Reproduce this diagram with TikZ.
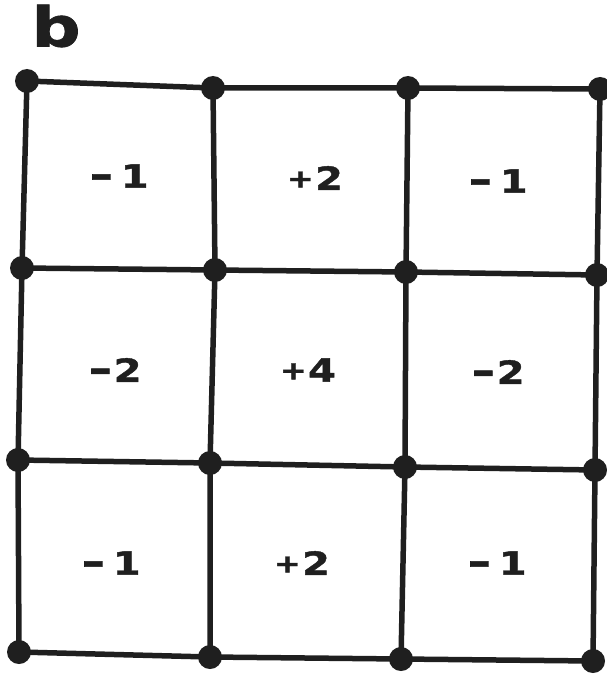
\documentclass[tikz,border=0pt]{standalone}
\usepackage{fontspec}
\setmainfont{DejaVu Sans}
\newfontfamily\heavy[FakeBold=1.2]{DejaVu Sans Bold}
\newcommand{\mydash}{\scalebox{1.45}[1.15]{-}}
\newcommand{\myplus}{\raisebox{2.3pt}{\scalebox{0.8}{+}}}
\begin{document}
\begin{tikzpicture}[x=1pt,y=-1pt,
  gridline/.style={line width=5.5pt,draw=black!88},
  dot/.style={circle,fill=black!88,inner sep=0pt,minimum size=24pt},
  lbl/.style={font=\fontsize{32}{34}\heavy,xscale=1.25,text=black!88,inner sep=0pt},
  title/.style={font=\fontsize{55}{57}\heavy,xscale=1.25,text=black!88,inner sep=0pt}]
\useasboundingbox (0,0) rectangle (606,674);
% grid points
\coordinate (a1) at (27,81);  \coordinate (a2) at (213,88); \coordinate (a3) at (408,88); \coordinate (a4) at (600,89);
\coordinate (b1) at (22,268); \coordinate (b2) at (215,270);\coordinate (b3) at (406,272);\coordinate (b4) at (597,275);
\coordinate (c1) at (18,460); \coordinate (c2) at (210,463);\coordinate (c3) at (405,467);\coordinate (c4) at (595,470);
\coordinate (d1) at (19,652); \coordinate (d2) at (210,657);\coordinate (d3) at (401,659);\coordinate (d4) at (593,661);
\foreach \r in {a,b,c,d}{
  \draw[gridline] (\r1) -- (\r2) -- (\r3) -- (\r4);
}
\foreach \c in {1,2,3,4}{
  \draw[gridline] (a\c) -- (b\c) -- (c\c) -- (d\c);
}
\foreach \r in {a,b,c,d}{
  \foreach \c in {1,2,3,4}{
    \node[dot] (n\r\c) at (\r\c) {};
  }
}
\node[title] (t) at (56,26) {b};
\node[lbl] (l11) at (119,176) {\mydash\hspace{6pt}1};
\node[lbl] (l12) at (315,178) {\myplus\hspace{1pt}2};
\node[lbl] (l13) at (498,181) {\mydash\hspace{6pt}1};
\node[lbl] (l21) at (115,370) {\mydash\hspace{1pt}2};
\node[lbl] (l22) at (308,370) {\myplus\hspace{1pt}4};
\node[lbl] (l23) at (498,372) {\mydash\hspace{1pt}2};
\node[lbl] (l31) at (111,563) {\mydash\hspace{6pt}1};
\node[lbl] (l32) at (302,563) {\myplus\hspace{1pt}2};
\node[lbl] (l33) at (497,563) {\mydash\hspace{6pt}1};
\end{tikzpicture}
\end{document}
